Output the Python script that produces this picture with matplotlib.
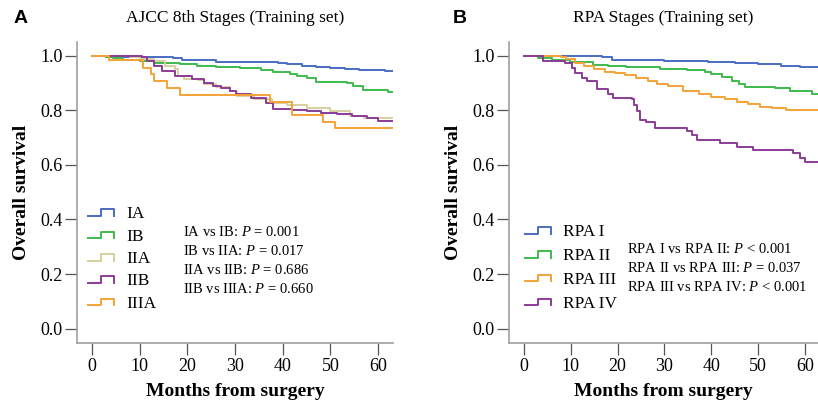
import numpy as np
import matplotlib
matplotlib.use("Agg")
import matplotlib.pyplot as plt
from matplotlib.lines import Line2D
from matplotlib.legend_handler import HandlerBase

plt.rcParams['font.family'] = 'Liberation Serif'
plt.rcParams['mathtext.fontset'] = 'custom'
plt.rcParams['mathtext.rm'] = 'Liberation Serif'
plt.rcParams['mathtext.it'] = 'Liberation Serif:italic'

# --- panel A: AJCC 8th stages (months, survival) ---
ia_t = [0, 3, 17, 19, 26, 39, 41, 44, 47, 50, 53, 56, 59, 61.5, 63]
ia_s = [1.0, 0.995, 0.99, 0.983, 0.978, 0.972, 0.968, 0.963, 0.958, 0.955, 0.951, 0.948, 0.946, 0.942, 0.942]
ib_t = [0, 3, 4.5, 6.5, 10, 13, 18.5, 22, 26, 31, 35.5, 38, 41.5, 43, 45, 47, 53.5, 54.7, 56.8, 62, 63]
ib_s = [1.0, 0.995, 0.99, 0.983, 0.98, 0.974, 0.97, 0.962, 0.958, 0.953, 0.946, 0.94, 0.931, 0.925, 0.918, 0.905,
        0.9, 0.889, 0.874, 0.868, 0.868]
iia_t = [0, 8, 10, 13, 15.3, 17.4, 18, 19.4, 22.2, 23.6, 26, 29, 30.5, 34, 37.7, 41, 45, 50, 54, 57, 63]
iia_s = [1.0, 0.995, 0.988, 0.98, 0.962, 0.95, 0.925, 0.913, 0.909, 0.897, 0.885, 0.87, 0.852, 0.84, 0.828, 0.818,
         0.809, 0.797, 0.779, 0.772, 0.772]
iib_t = [0, 10.5, 11.5, 13, 14.7, 17.4, 20.9, 23.6, 25.5, 27.1, 29, 30.2, 33.4, 36.6, 38, 42, 45, 48, 51.3, 54.5,
         57.6, 60, 63]
iib_s = [1.0, 0.993, 0.98, 0.96, 0.944, 0.925, 0.913, 0.901, 0.89, 0.883, 0.87, 0.86, 0.846, 0.828, 0.806, 0.8,
         0.797, 0.79, 0.785, 0.778, 0.772, 0.76, 0.76]
iiia_t = [0, 3.6, 10.8, 12.5, 13, 15.7, 18.4, 37.3, 41.9, 48.5, 50.9, 63]
iiia_s = [1.0, 0.983, 0.953, 0.931, 0.907, 0.883, 0.854, 0.83, 0.781, 0.758, 0.734, 0.734]

# --- panel B: RPA stages ---
rpa1_t = [0, 9, 16.6, 18.7, 30, 39.3, 45, 50, 55, 59, 63]
rpa1_s = [1.0, 0.997, 0.993, 0.983, 0.98, 0.975, 0.972, 0.968, 0.962, 0.958, 0.958]
rpa2_t = [0, 3, 6, 9.8, 14.8, 18, 21.9, 29, 34.8, 38.7, 40, 42.3, 44.4, 46, 47.2, 53.6, 56.8, 61.5, 63]
rpa2_s = [1.0, 0.99, 0.983, 0.976, 0.967, 0.962, 0.957, 0.951, 0.946, 0.941, 0.932, 0.922, 0.907, 0.895, 0.885,
          0.88, 0.87, 0.858, 0.858]
rpa3_t = [0, 8, 9, 10.9, 12.8, 15, 17.3, 19.5, 21.6, 24, 26.6, 28.5, 30.8, 34, 37.3, 40, 43, 45.5, 47.9, 50.5,
          52.9, 56, 63]
rpa3_s = [1.0, 0.995, 0.987, 0.974, 0.962, 0.952, 0.941, 0.935, 0.929, 0.918, 0.907, 0.896, 0.887, 0.872, 0.858,
          0.848, 0.84, 0.83, 0.821, 0.813, 0.807, 0.801, 0.801]
rpa4_t = [0, 4, 8.8, 10.2, 11, 12.3, 13.4, 15.5, 18, 19, 23, 23.5, 24.1, 24.8, 26, 28, 34.8, 35.8, 36.9, 41.9,
          45.4, 49, 57.5, 59, 60, 63]
rpa4_s = [1.0, 0.981, 0.974, 0.955, 0.938, 0.919, 0.907, 0.876, 0.858, 0.845, 0.84, 0.82, 0.796, 0.765, 0.755,
          0.735, 0.725, 0.71, 0.692, 0.68, 0.667, 0.655, 0.643, 0.625, 0.612, 0.612]

labels_a = ['IA', 'IB', 'IIA', 'IIB', 'IIIA']
labels_b = ['RPA I', 'RPA II', 'RPA III', 'RPA IV']
colors_a = ['#4a6cc3', '#3dba4c', '#d6cf9e', '#8c3b97', '#f6a237']
colors_b = ['#4a6cc3', '#3dba4c', '#f6a237', '#8c3b97']
ptext_a = ['IA vs IB: $P$ = 0.001', 'IB vs IIA: $P$ = 0.017', 'IIA vs IIB: $P$ = 0.686', 'IIB vs IIIA: $P$ = 0.660']
ptext_b = ['RPA I vs RPA II: $P$ < 0.001', 'RPA II vs RPA III: $P$ = 0.037', 'RPA III vs RPA IV: $P$ < 0.001']


class StepHandler(HandlerBase):
    # little step glyph used by the legend
    def create_artists(self, legend, orig_handle, xdescent, ydescent, width, height, fontsize, trans):
        xs = np.array([0, 0.5, 0.5, 1, 1]) * width - xdescent
        ys = np.array([0.2, 0.2, 0.75, 0.75, 0.2]) * height - ydescent
        return [Line2D(xs, ys, color=orig_handle.get_color(), lw=orig_handle.get_linewidth(), transform=trans)]


def style_axes(ax, xlim):
    ax.set_xlim(*xlim)
    ax.set_ylim(-0.053, 1.05)
    ax.set_xticks(range(0, 61, 10))
    ax.set_yticks(np.arange(0, 1.01, 0.2))
    ax.yaxis.set_major_formatter(matplotlib.ticker.FormatStrFormatter('%.1f'))
    for side in ['top', 'right']:
        ax.spines[side].set_visible(False)
    for side in ['left', 'bottom']:
        ax.spines[side].set_color('#a0a0a0')
        ax.spines[side].set_linewidth(1.2)
    ax.tick_params(direction='out', length=8.5, width=0.9, color='#555555', labelsize=13, pad=2)
    ax.set_xlabel('Months from surgery', fontsize=14, fontweight='bold', labelpad=6)
    ax.set_ylabel('Overall survival', fontsize=14, fontweight='bold', labelpad=7)


fig = plt.figure(figsize=(8.18, 4.07), dpi=100)
ax_a = fig.add_axes([0.0941, 0.157, 0.3863, 0.740])
ax_b = fig.add_axes([0.6222, 0.157, 0.3778, 0.740])

series_a = [(ia_t, ia_s), (ib_t, ib_s), (iia_t, iia_s), (iib_t, iib_s), (iiia_t, iiia_s)]
for (t, s), c, lab in zip(series_a, colors_a, labels_a):
    ax_a.step(t, s, where='post', color=c, lw=1.4, label=lab)
style_axes(ax_a, (-3.1, 63.1))
ax_a.set_title('AJCC 8th Stages (Training set)', fontsize=12.5, pad=14)
ax_a.legend(handler_map={Line2D: StepHandler()}, loc='upper left', bbox_to_anchor=(0.035, 0.455),
            frameon=False, fontsize=12.5, handlelength=1.5, handletextpad=0.7, labelspacing=0.36,
            borderpad=0, borderaxespad=0)
ax_a.text(0.335, 0.393, '\n'.join(ptext_a), transform=ax_a.transAxes, fontsize=10.5, va='top', linespacing=1.45)

series_b = [(rpa1_t, rpa1_s), (rpa2_t, rpa2_s), (rpa3_t, rpa3_s), (rpa4_t, rpa4_s)]
for (t, s), c, lab in zip(series_b, colors_b, labels_b):
    ax_b.step(t, s, where='post', color=c, lw=1.4, label=lab)
style_axes(ax_b, (-3.2, 62.8))
ax_b.set_title('RPA Stages (Training set)', fontsize=12.5, pad=14)
ax_b.legend(handler_map={Line2D: StepHandler()}, loc='upper left', bbox_to_anchor=(0.052, 0.395),
            frameon=False, fontsize=12.5, handlelength=1.5, handletextpad=0.7, labelspacing=0.44,
            borderpad=0, borderaxespad=0)
ax_b.text(0.382, 0.337, '\n'.join(ptext_b), transform=ax_b.transAxes, fontsize=10.5, va='top', linespacing=1.45)

fig.text(0.016, 0.955, 'A', fontsize=14, fontweight='bold', family='Liberation Sans', va='center')
fig.text(0.553, 0.955, 'B', fontsize=14, fontweight='bold', family='Liberation Sans', va='center')

fig.savefig('out.png', dpi=100)
